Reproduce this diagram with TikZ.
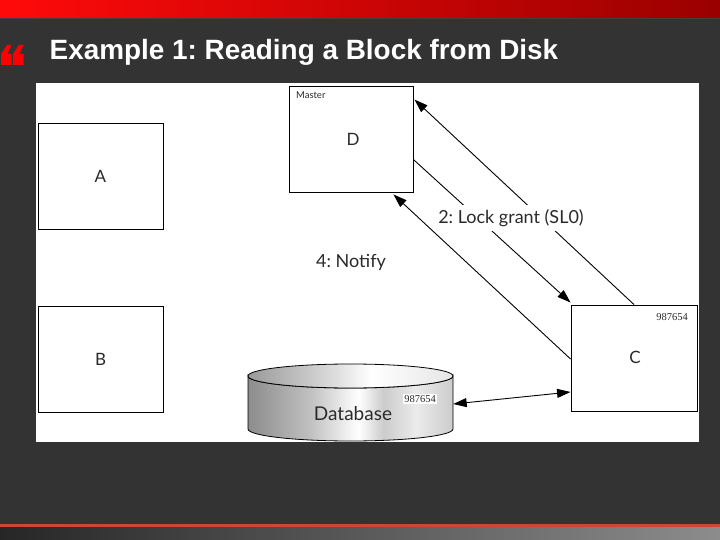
\documentclass[tikz,border=0pt]{standalone}
\usepackage{fontspec}
\setmainfont{Liberation Sans}
\newfontfamily\diagfont{Lato}
\newfontfamily\numfont{Liberation Serif}
\usetikzlibrary{arrows.meta,calc}
\frenchspacing
\definecolor{bgdark}{HTML}{333333}
\definecolor{redL}{HTML}{FF0A0A}
\definecolor{redR}{HTML}{9A0000}
\definecolor{lineRed}{HTML}{C8493A}
\definecolor{ink}{HTML}{2A2A2A}
\pgfdeclarehorizontalshading{dbbody}{100bp}{color(0bp)=(black!45); color(25bp)=(black!45); color(40bp)=(black!25); color(52bp)=(white); color(58bp)=(black!20); color(66bp)=(black!8); color(75bp)=(black!20); color(100bp)=(black!20)}
\pgfdeclarehorizontalshading{dbtop}{100bp}{color(0bp)=(black!40); color(25bp)=(black!40); color(45bp)=(black!15); color(55bp)=(white); color(75bp)=(black!10); color(100bp)=(black!10)}
\tikzset{
  box/.style={draw=black, line width=0.9pt, fill=white, inner sep=0pt},
  lbl/.style={font=\diagfont\fontsize{17}{17}\selectfont, text=ink},
  conn/.style={line width=0.9pt, -{Triangle[length=13.5pt,width=9pt]}},
  dconn/.style={line width=0.9pt, {Triangle[length=13.5pt,width=9pt]}-{Triangle[length=13.5pt,width=9pt]}},
  small/.style={font=\diagfont\fontsize{9.5}{10}\selectfont, text=ink},
  num/.style={font=\numfont\fontsize{10.5}{11}\selectfont, text=ink},
  qmark/.style={fill=red}
}
\begin{document}
\begin{tikzpicture}[x=1pt,y=-1pt]
\useasboundingbox (0,0) rectangle (720,540);
\fill[bgdark] (0,0) rectangle (720,540);
% top red band
\shade[left color=redL, right color=redR] (0,0) rectangle (720,18);
\fill[black!75] (0,18) rectangle (720,19.5);
% quote mark
\foreach \qx in {1,13}{
  \fill[qmark] (\qx+6,45) -- (\qx+10.5,45) -- (\qx+6.5,54) -- (\qx+10.5,54) -- (\qx+10.5,65) -- (\qx,65) -- (\qx,54) -- cycle;
}
% title
\node[anchor=base west, inner sep=0pt, text=white, font=\bfseries\fontsize{27.9}{28}\selectfont] (title) at (49.5,60) {Example 1: Reading a Block from Disk};
% white panel
\fill[white] (36,83) rectangle (699,442);
% boxes
\node[box, minimum width=125pt, minimum height=106pt] (A) at (100.5,176) {};
\node[lbl] (Alab) at (A.center) {A};
\node[box, minimum width=125pt, minimum height=106pt] (B) at (100.5,359) {};
\node[lbl] (Blab) at (B.center) {B};
\node[box, minimum width=124pt, minimum height=106pt] (D) at (351,139) {};
\node[lbl, anchor=center] (Dlab) at (353,139) {D};
\node[small, anchor=north west] (master) at ($(D.north west)+(4,3)$) {Master};
\node[box, minimum width=126pt, minimum height=106pt] (C) at (634,358) {};
\node[lbl] (Clab) at (635,357) {C};
\node[num, anchor=north east] (cnum) at ($(C.north east)+(-6,5)$) {987654};
% database cylinder
\shade[shading=dbbody, draw=black, line width=0.8pt]
  (248,376) -- (248,429) arc[start angle=180, end angle=0, x radius=102.5, y radius=12]
  -- (453,376) arc[start angle=0, end angle=180, x radius=102.5, y radius=12] -- cycle;
\shade[shading=dbtop, draw=black, line width=0.8pt] (350.5,376) ellipse[x radius=102.5, y radius=12];
\node[inner sep=0pt, minimum width=205pt, minimum height=77pt] (db) at (350.5,402) {};
\node[font=\diagfont\fontsize{19}{19}\selectfont, text=ink] (dblab) at (353,414) {Database};
\node[num, fill=white, inner sep=1.5pt] (dbnum) at (420,399) {987654};
% connectors
\coordinate (d1) at ($(D.north east)+(1,14)$);
\coordinate (d2) at ($(D.north east)+(0,74)$);
\coordinate (d3) at ($(D.south east)+(-20,2)$);
\coordinate (c1) at ($(C.north west)+(0,-2)$);
\coordinate (c3) at ($(C.west)+(0,1)$);
\coordinate (c4) at ($(C.west)+(0,34)$);
\coordinate (db4) at ($(db.east)+(0,2)$);
\draw[conn] (C.north) -- (d1);
\draw[conn] (d2) -- (c1);
\draw[conn] (c3) -- (d3);
\draw[dconn] (db4) -- (c4);
% labels
\node[lbl, font=\diagfont\fontsize{18}{18}\selectfont, fill=white, inner sep=4pt] (grant) at (511,218) {2: Lock grant (SL0)};
\node[lbl, font=\diagfont\fontsize{18}{18}\selectfont] (notify) at (351,262) {4: Notify};
% bottom
\fill[lineRed] (0,523.5) rectangle (720,527);
\shade[left color=black!85, right color=black!45] (0,527) rectangle (720,540);
\end{tikzpicture}
\end{document}
